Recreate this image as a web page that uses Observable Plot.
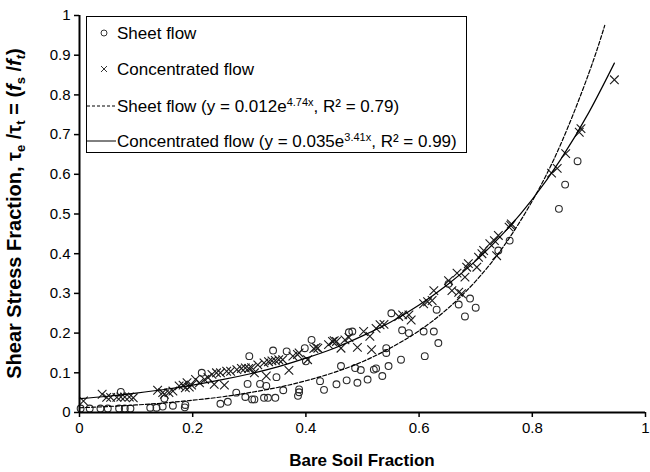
<!DOCTYPE html>
<html><head><meta charset="utf-8">
<script src="https://cdn.jsdelivr.net/npm/d3@7"></script>
<script src="https://cdn.jsdelivr.net/npm/@observablehq/plot@0.6"></script>
<style>
body{margin:0;background:#fff}
svg{font-family:"Liberation Sans",Arial,sans-serif}
</style>
</head><body><div id="chart"></div>
<script>
// Sheet flow observations (circles)
const sheetX = [0.002,0.018,0.037,0.050,0.073,0.070,0.080,0.090,0.125,0.136,0.147,0.150,0.165,0.187,0.216,0.249,0.262,0.277,0.293,0.297,0.300,0.305,0.309,0.319,0.330,0.326,0.333,0.346,0.342,0.348,0.360,0.366,0.386,0.388,0.398,0.400,0.410,0.425,0.432,0.454,0.462,0.472,0.476,0.482,0.487,0.491,0.497,0.509,0.520,0.524,0.535,0.542,0.542,0.546,0.551,0.568,0.570,0.582,0.608,0.610,0.626,0.634,0.631,0.670,0.681,0.690,0.700,0.652,0.740,0.760,0.847,0.858,0.880,0.186,0.388];
const sheetY = [0.010,0.010,0.010,0.010,0.052,0.010,0.010,0.010,0.012,0.012,0.015,0.035,0.017,0.019,0.100,0.022,0.027,0.050,0.039,0.072,0.142,0.033,0.033,0.072,0.067,0.037,0.037,0.037,0.156,0.089,0.056,0.154,0.042,0.058,0.162,0.129,0.183,0.079,0.057,0.071,0.117,0.081,0.202,0.204,0.112,0.075,0.107,0.083,0.108,0.111,0.092,0.162,0.150,0.117,0.250,0.133,0.207,0.200,0.204,0.142,0.204,0.175,0.259,0.272,0.242,0.287,0.264,0.324,0.408,0.433,0.513,0.574,0.633,0.013,0.051];

// Concentrated flow observations (crosses)
const concX = [0.007,0.040,0.048,0.055,0.066,0.073,0.080,0.088,0.095,0.138,0.147,0.150,0.158,0.165,0.176,0.183,0.187,0.194,0.198,0.190,0.205,0.212,0.221,0.227,0.234,0.242,0.238,0.249,0.256,0.260,0.267,0.278,0.286,0.293,0.299,0.304,0.309,0.315,0.326,0.334,0.340,0.346,0.352,0.359,0.330,0.370,0.377,0.385,0.388,0.403,0.414,0.418,0.421,0.440,0.447,0.450,0.454,0.462,0.469,0.476,0.491,0.502,0.513,0.516,0.524,0.531,0.538,0.564,0.571,0.586,0.582,0.608,0.615,0.623,0.626,0.652,0.658,0.670,0.675,0.667,0.681,0.687,0.684,0.702,0.714,0.711,0.705,0.737,0.740,0.733,0.725,0.762,0.759,0.763,0.834,0.844,0.859,0.886,0.883,0.945];
const concY = [0.029,0.046,0.038,0.038,0.038,0.039,0.039,0.039,0.037,0.056,0.050,0.046,0.050,0.054,0.067,0.069,0.062,0.064,0.069,0.075,0.083,0.075,0.083,0.088,0.096,0.100,0.071,0.100,0.069,0.104,0.104,0.108,0.111,0.112,0.111,0.113,0.100,0.120,0.125,0.128,0.130,0.131,0.133,0.133,0.092,0.106,0.142,0.146,0.150,0.133,0.161,0.164,0.162,0.171,0.179,0.181,0.179,0.162,0.183,0.189,0.164,0.204,0.192,0.158,0.212,0.221,0.222,0.242,0.246,0.233,0.246,0.274,0.279,0.282,0.307,0.332,0.307,0.303,0.299,0.351,0.341,0.375,0.366,0.366,0.408,0.400,0.391,0.395,0.446,0.433,0.425,0.471,0.467,0.475,0.603,0.615,0.652,0.715,0.706,0.838];

// Trend lines
const sheetFitX = [0,0.05,0.1,0.15,0.2,0.25,0.3,0.35,0.4,0.45,0.5,0.55,0.6,0.65,0.7,0.75,0.8,0.85,0.9,0.928];
const sheetFitY = [0.012,0.015,0.019,0.024,0.031,0.039,0.050,0.063,0.080,0.101,0.128,0.163,0.206,0.261,0.331,0.420,0.533,0.675,0.855,0.975];
const concFitX = [0,0.05,0.1,0.15,0.2,0.25,0.3,0.35,0.4,0.45,0.5,0.55,0.6,0.65,0.7,0.75,0.8,0.85,0.9,0.945];
const concFitY = [0.035,0.041,0.049,0.058,0.069,0.082,0.097,0.115,0.137,0.162,0.193,0.228,0.271,0.322,0.382,0.453,0.537,0.637,0.756,0.880];

const xTicks = [0,0.2,0.4,0.6,0.8,1];
const yTicks = [0,0.1,0.2,0.3,0.4,0.5,0.6,0.7,0.8,0.9,1];
const xTitle = "Bare Soil Fraction";
const legendSheet = "Sheet flow";
const legendConc = "Concentrated flow";

const sheet = sheetX.map((x,i)=>({x, y: sheetY[i]}));
const conc = concX.map((x,i)=>({x, y: concY[i]}));
const sheetFit = sheetFitX.map((x,i)=>({x, y: sheetFitY[i]}));
const concFit = concFitX.map((x,i)=>({x, y: concFitY[i]}));
const fmt = d3.format("~g");

const W = 650, H = 472, ML = 79, MR = 5, MT = 15, MB = 60;
const chart = Plot.plot({
  width: W, height: H, marginLeft: ML, marginRight: MR, marginTop: MT, marginBottom: MB,
  style: {fontFamily: "'Liberation Sans', Arial, sans-serif", fontSize: "15px", color: "#000", background: "#fff", overflow: "visible"},
  x: {domain: [0, 1]},
  y: {domain: [0, 1]},
  marks: [
    Plot.dot(sheet, {x: "x", y: "y", r: 3.4, stroke: "#2a2a2a", strokeWidth: 1.1, fill: "none"}),
    Plot.dot(conc, {x: "x", y: "y", symbol: "times", r: 4, stroke: "#1a1a1a", strokeWidth: 1.1}),
    Plot.line(sheetFit, {x: "x", y: "y", stroke: "#000", strokeWidth: 1.2, strokeDasharray: "4,2", curve: "natural"}),
    Plot.line(concFit, {x: "x", y: "y", stroke: "#000", strokeWidth: 1.2, curve: "natural"}),
    Plot.axisX({ticks: xTicks, tickSize: 5, tickPadding: 5, tickFormat: fmt, label: null, fontSize: 15, strokeWidth: 1.5}),
    Plot.axisY({ticks: yTicks, tickSize: 5, tickPadding: 4, tickFormat: fmt, label: null, fontSize: 15, strokeWidth: 1.5}),
    Plot.ruleX([0], {stroke: "#000", strokeWidth: 2}),
    Plot.ruleY([0], {stroke: "#000", strokeWidth: 2})
  ]
});
document.getElementById("chart").appendChild(chart);

const svg = d3.select(chart);
// X title
svg.append("text").attr("x", ML + (W - ML - MR) / 2).attr("y", 466)
  .attr("text-anchor", "middle").attr("font-weight", "bold").attr("font-size", 17).text(xTitle);

// Y title with sub/italics
const yt = svg.append("text").attr("transform", `translate(21,${MT + (H - MT - MB) / 2}) rotate(-90)`)
  .attr("text-anchor", "middle").attr("font-weight", "bold").attr("font-size", 20);
yt.append("tspan").text("Shear Stress Fraction, τ");
yt.append("tspan").attr("dy", 4).attr("font-size", 13).text("e");
yt.append("tspan").attr("dy", -4).text(" /τ");
yt.append("tspan").attr("dy", 4).attr("font-size", 13).text("t");
yt.append("tspan").attr("dy", -4).text(" = (");
yt.append("tspan").attr("font-style", "italic").text("f");
yt.append("tspan").attr("dy", 4).attr("font-size", 13).text("s");
yt.append("tspan").attr("dy", -4).text(" /");
yt.append("tspan").attr("font-style", "italic").text("f");
yt.append("tspan").attr("dy", 4).attr("font-size", 13).attr("font-style", "italic").text("t");
yt.append("tspan").attr("dy", -4).text(")");

// Legend
const lg = svg.append("g").attr("font-size", 17).attr("text-anchor", "start");
lg.append("rect").attr("x", 86.5).attr("y", 16.5).attr("width", 380).attr("height", 136)
  .attr("fill", "#fff").attr("stroke", "#000").attr("stroke-width", 1);
const rows = [33, 69, 106, 141];
const tx = 117;
lg.append("circle").attr("cx", 104).attr("cy", rows[0]).attr("r", 3).attr("fill", "none").attr("stroke", "#333");
lg.append("path").attr("d", `M${101},${rows[1]-3}L${107},${rows[1]+3}M${101},${rows[1]+3}L${107},${rows[1]-3}`).attr("stroke", "#333");
lg.append("line").attr("x1", 87).attr("x2", 116).attr("y1", rows[2]).attr("y2", rows[2]).attr("stroke", "#000").attr("stroke-dasharray", "3,2");
lg.append("line").attr("x1", 87).attr("x2", 116).attr("y1", rows[3]).attr("y2", rows[3]).attr("stroke", "#000");
lg.append("text").attr("x", tx).attr("y", rows[0] + 6).text(legendSheet);
lg.append("text").attr("x", tx).attr("y", rows[1] + 6).text(legendConc);
function fitLabel(y, name, a, b, r2) {
  const t = lg.append("text").attr("x", tx).attr("y", y + 6);
  t.append("tspan").text(`${name} (y = ${a}e`);
  t.append("tspan").attr("dy", -6).attr("font-size", 11).text(`${b}x`);
  t.append("tspan").attr("dy", 6).text(`, R² = ${r2})`);
}
fitLabel(rows[2], legendSheet, "0.012", "4.74", "0.79");
fitLabel(rows[3], legendConc, "0.035", "3.41", "0.99");
</script>
</body></html>
